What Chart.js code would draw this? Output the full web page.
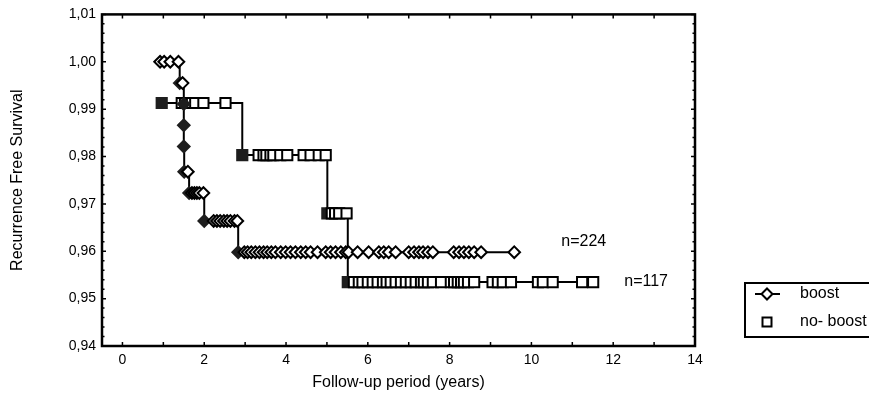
<!DOCTYPE html>
<html><head><meta charset="utf-8">
<script src="https://cdn.jsdelivr.net/npm/chart.js@4/dist/chart.umd.min.js"></script>
<style>html,body{margin:0;padding:0;background:#fff;}#wrap{width:869px;height:406px;}</style>
</head><body><div id="wrap"><canvas id="c" width="869" height="406"></canvas></div>
<script>
// ---- data (Kaplan-Meier curves) ----
const seriesNames = ['boost', 'no- boost'];
const groupSizes = ['n=224', 'n=117'];

// boost: time (years), survival, event flag (1 = event / filled marker, 0 = censored)
const boostTimes = [0.92,1.02,1.17,1.37,1.40,1.47,1.50,1.50,1.50,1.51,1.60,1.63,1.70,1.76,1.82,1.88,1.98,2.00,
  2.23,2.31,2.39,2.48,2.56,2.64,2.74,2.81,2.83,
  2.98,3.06,3.15,3.25,3.35,3.45,3.54,3.64,3.74,3.87,3.99,4.11,4.23,4.36,4.48,4.60,4.77,4.97,5.09,5.21,5.34,5.46,5.53,
  5.75,6.02,6.27,6.39,6.51,6.68,7.00,7.13,7.25,7.35,7.47,7.59,8.10,8.23,8.35,8.47,8.60,8.77,9.58];
const boostSurvival = [1,1,1,1,0.9955,0.9955,0.9911,0.9866,0.9821,0.9768,0.9768,0.9723,0.9723,0.9723,0.9723,0.9723,0.9723,0.9664,
  0.9664,0.9664,0.9664,0.9664,0.9664,0.9664,0.9664,0.9664,0.9598,
  0.9598,0.9598,0.9598,0.9598,0.9598,0.9598,0.9598,0.9598,0.9598,0.9598,0.9598,0.9598,0.9598,0.9598,0.9598,0.9598,0.9598,0.9598,0.9598,0.9598,0.9598,0.9598,0.9598,
  0.9598,0.9598,0.9598,0.9598,0.9598,0.9598,0.9598,0.9598,0.9598,0.9598,0.9598,0.9598,0.9598,0.9598,0.9598,0.9598,0.9598,0.9598,0.9598];
const boostEvents = [0,0,0,0,1,0,1,1,1,1,0,1,0,0,0,0,0,1,
  0,0,0,0,0,0,0,0,1,
  0,0,0,0,0,0,0,0,0,0,0,0,0,0,0,0,0,0,0,0,0,0,0,
  0,0,0,0,0,0,0,0,0,0,0,0,0,0,0,0,0,0,0];

// no-boost
const noBoostTimes = [0.96,1.45,1.53,1.70,1.78,1.98,2.52,2.93,
  3.33,3.45,3.52,3.62,3.69,3.86,4.03,4.43,4.60,4.80,4.97,5.01,
  5.12,5.20,5.30,5.48,5.51,
  5.66,5.78,5.87,6.00,6.12,6.24,6.37,6.46,6.56,6.68,6.81,6.93,7.05,7.17,7.30,7.37,7.47,7.59,7.79,8.03,8.11,8.20,8.28,8.35,8.45,8.60,
  9.05,9.18,9.30,9.50,10.16,10.28,10.52,11.24,11.51];
const noBoostSurvival = [0.9913,0.9913,0.9913,0.9913,0.9913,0.9913,0.9913,0.9803,
  0.9803,0.9803,0.9803,0.9803,0.9803,0.9803,0.9803,0.9803,0.9803,0.9803,0.9803,0.9680,
  0.9680,0.9680,0.9680,0.9680,0.9535,
  0.9535,0.9535,0.9535,0.9535,0.9535,0.9535,0.9535,0.9535,0.9535,0.9535,0.9535,0.9535,0.9535,0.9535,0.9535,0.9535,0.9535,0.9535,0.9535,0.9535,0.9535,0.9535,0.9535,0.9535,0.9535,0.9535,
  0.9535,0.9535,0.9535,0.9535,0.9535,0.9535,0.9535,0.9535,0.9535];
const noBoostEvents = [1,0,0,0,0,0,0,1,
  0,0,0,0,0,0,0,0,0,0,0,1,
  0,0,0,0,1,
  0,0,0,0,0,0,0,0,0,0,0,0,0,0,0,0,0,0,0,0,0,0,0,0,0,0,
  0,0,0,0,0,0,0,0,0];

const xTickValues = [0,2,4,6,8,10,12,14];
const yTickValues = [0.94,0.95,0.96,0.97,0.98,0.99,1.00,1.01];
// anchor of the "n=" annotations, in data units (left edge, vertical centre)
const groupLabelX = [10.73, 12.27];
const groupLabelY = [0.9621, 0.9535];

// ---- build ----
function pts(t, s, e){ return t.map((v,i)=>({x:v, y:s[i], event:e[i]})); }
const FONT = "Arial, 'Liberation Sans', sans-serif";
const FILLED = '#1e1e1e';

const deco = {
  id: 'deco',
  afterDraw(chart){
    const {ctx, chartArea:a, scales:{x, y}} = chart;
    ctx.save();
    ctx.strokeStyle = '#000';
    ctx.lineWidth = 1.5;
    ctx.beginPath();
    for (let v = 0; v <= 14; v++){
      const px = x.getPixelForValue(v);
      ctx.moveTo(px, a.bottom); ctx.lineTo(px, a.bottom - 4);
      ctx.moveTo(px, a.top); ctx.lineTo(px, a.top + 4);
    }
    for (let i = 0; i <= 35; i++){
      const py = y.getPixelForValue(0.94 + i*0.002);
      const L = (i % 5) ? 2.5 : 4;
      ctx.moveTo(a.left, py); ctx.lineTo(a.left + L, py);
      ctx.moveTo(a.right, py); ctx.lineTo(a.right - L, py);
    }
    ctx.stroke();
    ctx.lineWidth = 2.5;
    ctx.strokeRect(a.left, a.top, a.right - a.left, a.bottom - a.top);

    // n= annotations
    ctx.fillStyle = '#000';
    ctx.font = '16px ' + FONT;
    ctx.textBaseline = 'middle';
    ctx.textAlign = 'left';
    groupSizes.forEach((txt, i) => {
      ctx.fillText(txt, x.getPixelForValue(groupLabelX[i]), y.getPixelForValue(groupLabelY[i]));
    });

    // legend
    const bx = 745, by = 283, bw = 140, bh = 54;
    ctx.lineWidth = 2;
    ctx.strokeRect(bx, by, bw, bh);
    chart.data.datasets.forEach((ds, i) => {
      const cy = by + 11 + i*28, cx = 767;
      ctx.strokeStyle = '#000';
      ctx.lineWidth = 2;
      if (i === 0){
        ctx.beginPath(); ctx.moveTo(cx - 12, cy); ctx.lineTo(cx + 13, cy); ctx.stroke();
      }
      ctx.fillStyle = '#fff';
      ctx.beginPath();
      if (ds.pointStyle === 'rectRot'){
        const r = 5.5;
        ctx.moveTo(cx, cy - r); ctx.lineTo(cx + r, cy); ctx.lineTo(cx, cy + r); ctx.lineTo(cx - r, cy); ctx.closePath();
      } else {
        ctx.rect(cx - 4.5, cy - 4.5, 9, 9);
      }
      ctx.fill(); ctx.stroke();
      ctx.fillStyle = '#000';
      ctx.fillText(ds.label, 800, cy);
    });
    ctx.restore();
  }
};

new Chart(document.getElementById('c'), {
  type: 'line',
  data: {
    datasets: [
      {
        label: seriesNames[0],
        data: pts(boostTimes, boostSurvival, boostEvents),
        stepped: 'before',
        borderColor: '#000', borderWidth: 2,
        pointStyle: 'rectRot', pointRadius: 5.8, pointBorderWidth: 2,
        pointBackgroundColor: c => (c.raw && c.raw.event) ? FILLED : '#fff',
        pointBorderColor: c => (c.raw && c.raw.event) ? FILLED : '#000',
        fill: false
      },
      {
        label: seriesNames[1],
        data: pts(noBoostTimes, noBoostSurvival, noBoostEvents),
        stepped: 'before',
        borderColor: '#000', borderWidth: 2,
        pointStyle: 'rect', pointRadius: 7.2, pointBorderWidth: 2,
        pointBackgroundColor: c => (c.raw && c.raw.event) ? FILLED : '#fff',
        pointBorderColor: c => (c.raw && c.raw.event) ? FILLED : '#000',
        fill: false
      }
    ]
  },
  options: {
    responsive: false, animation: false, devicePixelRatio: 1,
    layout: { padding: { left: 0, top: 14, right: 174, bottom: 0 } },
    plugins: { legend: { display: false }, tooltip: { enabled: false } },
    scales: {
      x: {
        type: 'linear', min: -0.5, max: 14,
        afterBuildTicks: s => { s.ticks = xTickValues.map(v => ({value: v})); },
        afterFit: s => { s.height = 60; },
        grid: { display: false, drawTicks: false },
        border: { display: false },
        ticks: { color: '#000', font: { family: FONT, size: 14 }, padding: 6, maxRotation: 0, autoSkip: false },
        title: { display: true, text: 'Follow-up period (years)', color: '#000', font: { family: FONT, size: 16 }, padding: { top: 0, bottom: 14 } }
      },
      y: {
        type: 'linear', min: 0.94, max: 1.01,
        afterBuildTicks: s => { s.ticks = yTickValues.map(v => ({value: v})); },
        afterFit: s => { s.width = 102; },
        grid: { display: false, drawTicks: false },
        border: { display: false },
        ticks: { color: '#000', font: { family: FONT, size: 14 }, padding: 6, autoSkip: false,
                 callback: v => Number(v).toFixed(2).replace('.', ',') },
        title: { display: true, text: 'Recurrence Free Survival', color: '#000', font: { family: FONT, size: 16 }, padding: { top: 8, bottom: 0 } }
      }
    }
  },
  plugins: [deco]
});
</script>
</body></html>
